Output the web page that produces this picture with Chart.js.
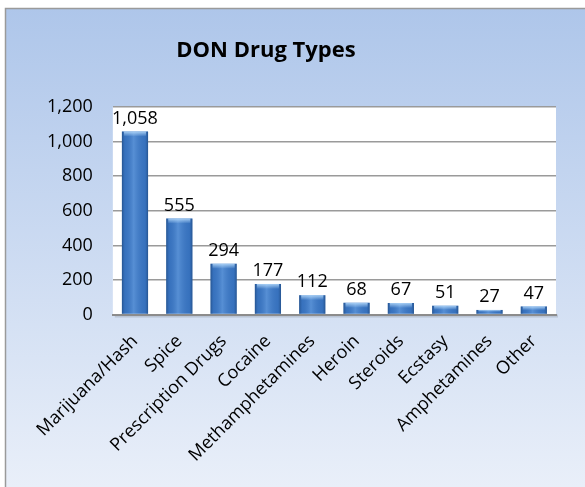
<!DOCTYPE html>
<html>
<head>
<meta charset="utf-8">
<script src="https://cdn.jsdelivr.net/npm/chart.js@4.4.0/dist/chart.umd.min.js"></script>
<style>
  html, body { margin: 0; padding: 0; background: #ffffff; }
  #wrap { width: 585px; height: 487px; }
</style>
</head>
<body>
<div id="wrap"><canvas id="drugs" width="585" height="487"></canvas></div>
<script>
var categories = ['Marijuana/Hash', 'Spice', 'Prescription Drugs', 'Cocaine', 'Methamphetamines',
  'Heroin', 'Steroids', 'Ecstasy', 'Amphetamines', 'Other'];
var counts = [1058, 555, 294, 177, 112, 68, 67, 51, 27, 47];
var yMin = 0, yMax = 1200, yStep = 200;
var chartTitle = 'DON Drug Types';

var FONT = '"Open Sans", "Noto Sans", sans-serif';

// background panel with a soft blue gradient and a grey frame, plus the title
var panelBg = {
  id: 'panelBg',
  beforeDraw: function(chart) {
    var c = chart.ctx, w = chart.width, h = chart.height;
    c.save();
    var g = c.createLinearGradient(0, 8, 0, h);
    g.addColorStop(0, '#aec6ea');
    g.addColorStop(1, '#e9eff9');
    c.fillStyle = g;
    c.fillRect(5, 8, w - 5, h - 8);
    c.strokeStyle = '#9a9a9a';
    c.lineWidth = 1.5;
    c.beginPath();
    c.moveTo(5.5, h);
    c.lineTo(5.5, 8.5);
    c.lineTo(w, 8.5);
    c.stroke();
    var a = chart.chartArea;
    c.fillStyle = 'rgba(0,0,0,0.12)';
    c.fillRect(a.left + 2, a.bottom, a.right - a.left, 3);
    c.fillStyle = '#ffffff';
    c.fillRect(a.left, a.top, a.right - a.left, a.bottom - a.top);

    c.fillStyle = '#000000';
    c.font = 'bold 22px ' + FONT;
    c.textAlign = 'center';
    c.textBaseline = 'middle';
    c.fillText(chartTitle, 266, 51);
    c.restore();
  }
};

// cylinder shading over each bar plus value labels
var barShade = {
  id: 'barShade',
  afterDatasetsDraw: function(chart) {
    var c = chart.ctx;
    var meta = chart.getDatasetMeta(0);
    c.save();
    meta.data.forEach(function(bar, i) {
      var p = bar.getProps(['x', 'y', 'base', 'width'], true);
      var l = p.x - p.width / 2, r = p.x + p.width / 2;
      var g = c.createLinearGradient(l, 0, r, 0);
      g.addColorStop(0, 'rgba(20,55,100,0.55)');
      g.addColorStop(0.12, 'rgba(40,90,160,0.15)');
      g.addColorStop(0.45, 'rgba(140,190,245,0.35)');
      g.addColorStop(0.88, 'rgba(40,90,160,0.15)');
      g.addColorStop(1, 'rgba(20,55,100,0.55)');
      c.fillStyle = g;
      c.fillRect(l, p.y, p.width, p.base - p.y);
      var cap = Math.min(5, (p.base - p.y) / 2);
      var g2 = c.createLinearGradient(0, p.y, 0, p.y + cap);
      g2.addColorStop(0, 'rgba(190,225,255,0.8)');
      g2.addColorStop(1, 'rgba(190,225,255,0)');
      c.fillStyle = g2;
      c.fillRect(l + 2, p.y, p.width - 4, cap);

      c.fillStyle = '#000000';
      c.font = '18px ' + FONT;
      c.textAlign = 'center';
      c.textBaseline = 'bottom';
      c.fillText(counts[i].toLocaleString('en-US'), p.x, p.y - 4);
    });
    c.restore();
  }
};

var config = {
  type: 'bar',
  data: {
    labels: categories,
    datasets: [{
      data: counts,
      backgroundColor: '#3a76c3',
      borderWidth: 0,
      categoryPercentage: 1,
      barPercentage: 0.59
    }]
  },
  options: {
    responsive: false,
    animation: false,
    layout: { padding: { left: 27, right: 29, top: 107, bottom: 13 } },
    plugins: {
      legend: { display: false },
      tooltip: { enabled: false },
      title: { display: false }
    },
    scales: {
      x: {
        grid: { display: false },
        border: { display: true, color: '#8c8c8c', width: 2 },
        ticks: {
          color: '#000000',
          font: { family: FONT, size: 18 },
          minRotation: 45,
          maxRotation: 45,
          padding: 8
        }
      },
      y: {
        min: yMin,
        max: yMax,
        grid: { color: '#9a9a9a', lineWidth: 1.5, drawTicks: false },
        border: { display: false },
        ticks: {
          stepSize: yStep,
          color: '#000000',
          font: { family: FONT, size: 18 },
          padding: 20
        }
      }
    }
  },
  plugins: [panelBg, barShade]
};

window.onload = function() {
  var ctx = document.getElementById('drugs').getContext('2d');
  window.drugChart = new Chart(ctx, config);
};
</script>
</body>
</html>
